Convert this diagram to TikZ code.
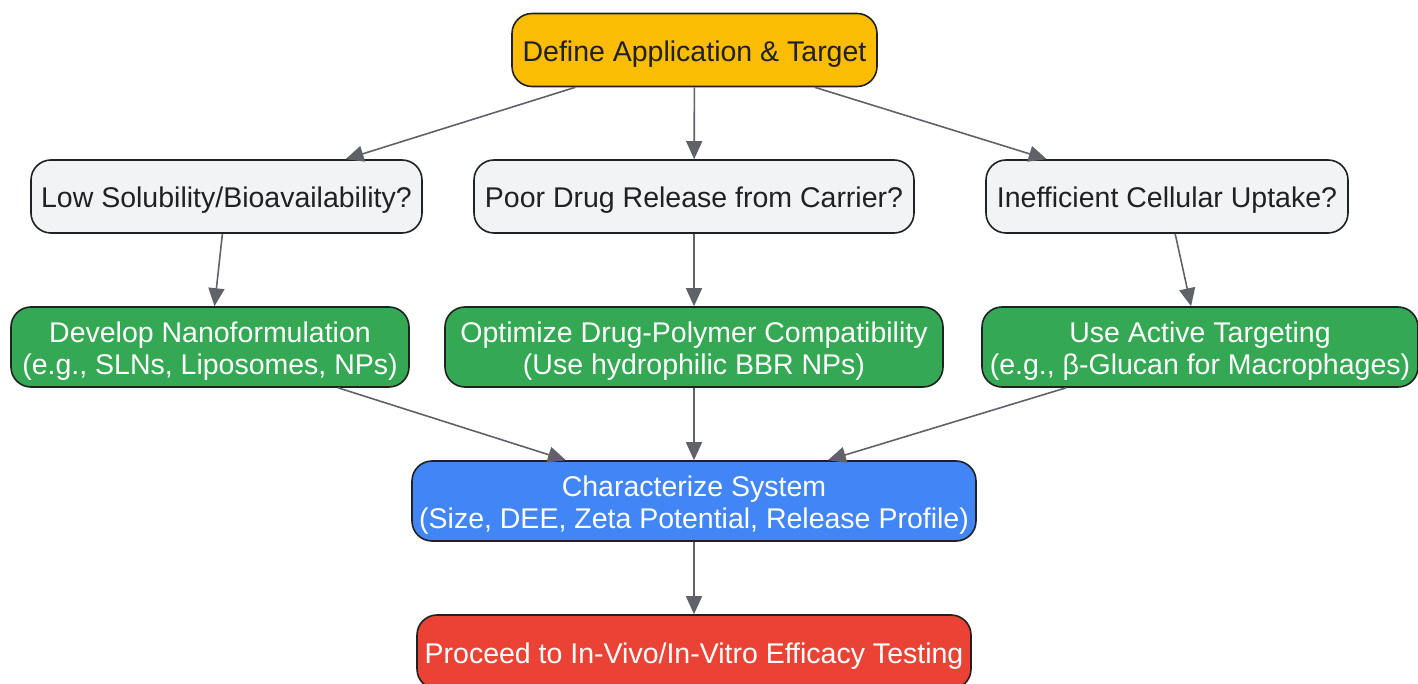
\documentclass[tikz,border=0pt]{standalone}
\usepackage{fontspec}
\setmainfont{Liberation Sans}
\usepackage{xcolor}
\usetikzlibrary{arrows.meta}
\definecolor{edge}{HTML}{202124}
\definecolor{ink}{HTML}{202124}
\definecolor{linkgray}{HTML}{5F6368}
\definecolor{goalyellow}{HTML}{FBBC04}
\definecolor{askgray}{HTML}{F1F3F4}
\definecolor{fixgreen}{HTML}{34A853}
\definecolor{testblue}{HTML}{4285F4}
\definecolor{endred}{HTML}{EA4335}

\begin{document}
\begin{tikzpicture}[x=1pt, y=-1pt,
  box/.style={draw=edge, line width=1.6pt, rounded corners=20pt, align=center, inner sep=0pt, minimum height=73pt, font=\fontsize{28.5}{32}\selectfont, text height=28pt, text=ink},
  twoline/.style={minimum height=80pt, text height=60pt},
  ask/.style={box, fill=askgray},
  fix/.style={box, twoline, fill=fixgreen, text=white},
  link/.style={draw=linkgray, line width=1.6pt, -{Triangle[length=18pt,width=16pt]}}]
  \useasboundingbox (0,0) rectangle (1418,684);

  % goal
  \node[box, fill=goalyellow, minimum width=365pt] (goal) at (694.5,50) {Define Application \& Target};

  % questions
  \node[ask, minimum width=391pt] (solub) at (226.5,196.5) {Low Solubility/Bioavailability?};
  \node[ask, minimum width=440pt] (release) at (694,196.5) {Poor Drug Release from Carrier?};
  \node[ask, minimum width=362pt] (uptake) at (1167,196.5) {Inefficient Cellular Uptake?};

  % remedies
  \node[fix, minimum width=398pt] (nano) at (210,347) {Develop Nanoformulation\\(e.g., SLNs, Liposomes, NPs)};
  \node[fix, minimum width=498pt] (compat) at (694,347) {Optimize Drug-Polymer Compatibility\\(Use hydrophilic BBR NPs)};
  \node[fix, minimum width=436pt] (target) at (1200,347) {Use Active Targeting\\(e.g., β-Glucan for Macrophages)};

  % characterization and testing
  \node[box, twoline, fill=testblue, text=white, minimum width=564pt] (charac) at (694,501) {Characterize System\\(Size, DEE, Zeta Potential, Release Profile)};
  \node[box, fill=endred, text=white, minimum width=554pt, minimum height=74pt] (efficacy) at (694,652) {Proceed to In-Vivo/In-Vitro Efficacy Testing};

  \draw[link] (goal) -- (solub);
  \draw[link] (goal) -- (release);
  \draw[link] (goal) -- (uptake);
  \draw[link] (solub) -- (nano);
  \draw[link] (release) -- (compat);
  \draw[link] (uptake) -- (target);
  \draw[link] (nano) -- (charac);
  \draw[link] (compat) -- (charac);
  \draw[link] (target) -- (charac);
  \draw[link] (charac) -- (efficacy);
\end{tikzpicture}
\end{document}
